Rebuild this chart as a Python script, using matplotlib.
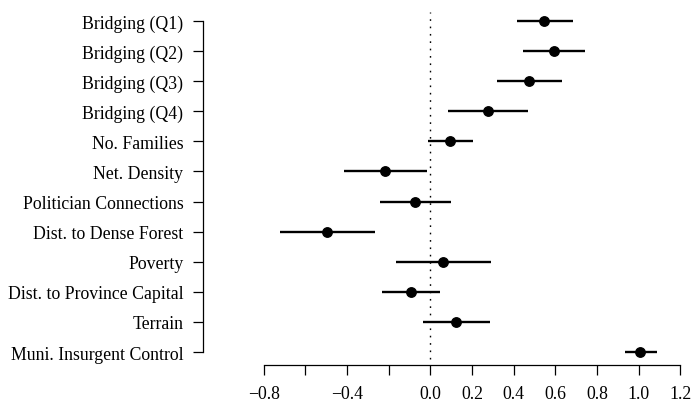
import numpy as np
import matplotlib.pyplot as plt

plt.rcParams['font.family'] = ['Liberation Serif', 'DejaVu Serif']

labels = ["Bridging (Q1)", "Bridging (Q2)", "Bridging (Q3)", "Bridging (Q4)",
          "No. Families", "Net. Density", "Politician Connections",
          "Dist. to Dense Forest", "Poverty", "Dist. to Province Capital",
          "Terrain", "Muni. Insurgent Control"]
est = [0.547, 0.592, 0.475, 0.277, 0.096, -0.217, -0.073, -0.496, 0.063, -0.094, 0.123, 1.007]
lo = [0.415, 0.447, 0.322, 0.087, -0.011, -0.416, -0.243, -0.722, -0.165, -0.233, -0.036, 0.934]
hi = [0.684, 0.743, 0.632, 0.470, 0.203, -0.018, 0.098, -0.267, 0.293, 0.047, 0.287, 1.089]

xticks = np.round(np.arange(-0.8, 1.21, 0.2), 1)
xticklabels = ["\u22120.8", "", "\u22120.4", "", "0.0", "0.2", "0.4", "0.6", "0.8", "1.0", "1.2"]

W, H = 691, 406
fig = plt.figure(figsize=(W / 100, H / 100), dpi=100)
# axes box in pixels: left 203, right 688, top 5, bottom 366
ax = fig.add_axes([203 / W, (H - 366) / H, (688 - 203) / W, (366 - 5) / H])

pos = np.arange(len(labels))
ax.hlines(pos, lo, hi, color='black', lw=1.7)
ax.plot(est, pos, 'o', color='black', ms=6.8)
ax.axvline(0, ymin=0.017, ymax=0.979, color='black', lw=1.0,
           linestyle=(0, (1.2, 4.1)))

ax.set_xlim(-1.091, 1.237)
ax.set_ylim(11.43, -0.565)

for s in ['top', 'right']:
    ax.spines[s].set_visible(False)
ax.spines['left'].set_bounds(0, len(labels) - 1)
ax.spines['bottom'].set_bounds(-0.8, 1.2)
ax.spines['left'].set_linewidth(0.9)
ax.spines['bottom'].set_linewidth(0.9)

ax.set_yticks(pos)
ax.set_yticklabels(labels, fontsize=12.8)
ax.set_xticks(xticks)
ax.set_xticklabels(xticklabels, fontsize=12.8)
ax.tick_params(axis='y', length=7.2, width=0.9, pad=7)
ax.tick_params(axis='x', length=7.2, width=0.9, pad=7.5)

fig.savefig("out.png", dpi=100)
